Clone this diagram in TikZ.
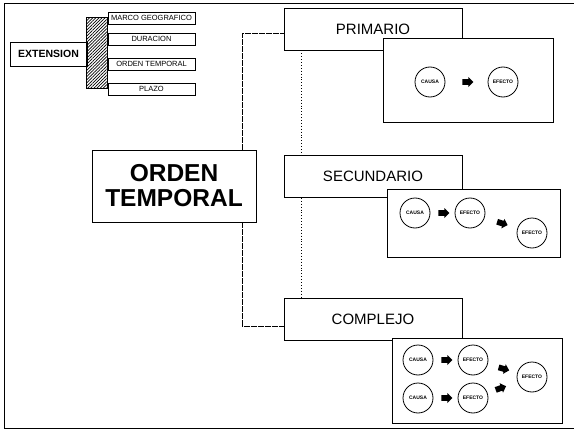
\documentclass[tikz,border=0pt]{standalone}
\usepackage{fontspec}
\setmainfont{Liberation Sans}
\usetikzlibrary{calc,patterns.meta,shapes.arrows}

\begin{document}
\begin{tikzpicture}[x=1pt,y=-1pt,
  titlebox/.style={draw,line width=0.8pt,fill=white,minimum width=178pt,minimum height=42pt,inner sep=0pt,font=\fontsize{15}{17}\selectfont},
  itembox/.style={draw,line width=0.7pt,fill=white,minimum width=87pt,minimum height=12pt,inner sep=0pt,font=\fontsize{7.5}{8}\selectfont},
  panel/.style={draw,line width=1pt,fill=white,inner sep=0pt},
  evt/.style={circle,draw,line width=0.8pt,minimum size=30pt,inner sep=0pt,font=\bfseries\fontsize{5}{6}\selectfont},
  blk/.style={single arrow,fill=black,minimum height=11pt,minimum width=10pt,single arrow head extend=2pt,inner sep=2.6pt},
  link/.style={line width=0.8pt,dash pattern=on 6pt off 1pt},
  guide/.style={line width=0.9pt,dotted}]
\useasboundingbox (0,0) rectangle (574,431);
% outer frame, open on the right
\draw[line width=1.8pt] (574,3.5) -- (4.5,3.5) -- (4.5,428.5) -- (574,428.5);
% extension block: label, hatched strip, four items
\node[draw,line width=0.8pt,minimum width=77pt,minimum height=24pt,inner sep=0pt,font=\bfseries\fontsize{10.5}{12}\selectfont] (ext) at (48.5,54) {EXTENSION};
\node[draw,line width=0.8pt,pattern={Lines[angle=45,distance=2.2pt,line width=0.7pt]},minimum width=21pt,minimum height=71pt,inner sep=0pt] (strip) at (96.5,52.5) {};
\node[itembox] (marco) at (151.5,18) {MARCO GEOGRAFICO};
\node[itembox] (dur) at (151.5,39) {DURACION};
\node[itembox] (ordt) at (151.5,64) {ORDEN TEMPORAL};
\node[itembox] (plazo) at (151.5,89) {PLAZO};
% main concept
\node[draw,line width=0.8pt,minimum width=164pt,minimum height=72pt,inner sep=0pt,align=center,font=\bfseries\fontsize{24.5}{25}\selectfont] (orden) at (174,186) {ORDEN\\TEMPORAL};
% primario
\node[titlebox] (prim) at (373,29) {PRIMARIO};
\node[panel,minimum width=170pt,minimum height=84pt] (pprim) at (468,80) {};
\node[evt] (pc) at (430,82) {CAUSA};
\node[evt] (pe) at (503,82) {EFECTO};
\path (pc) -- node[blk,sloped] {} (pe);
% secundario
\node[titlebox] (sec) at (373,176.5) {SECUNDARIO};
\node[panel,minimum width=173pt,minimum height=68pt] (psec) at (473.5,223) {};
\node[evt] (sc) at (415,213) {CAUSA};
\node[evt] (se) at (470,213) {EFECTO};
\node[evt] (sf) at (532,233) {EFECTO};
\path (sc) -- node[blk,sloped] {} (se);
\path (se) -- node[blk,sloped] {} (sf);
% complejo
\node[titlebox] (comp) at (373,319.5) {COMPLEJO};
\node[panel,minimum width=170pt,minimum height=85pt] (pcomp) at (477,380.5) {};
\node[evt] (ct) at (418,360) {CAUSA};
\node[evt] (et) at (473,360) {EFECTO};
\node[evt] (cb) at (418,398) {CAUSA};
\node[evt] (eb) at (473,398) {EFECTO};
\node[evt] (ef) at (532,377) {EFECTO};
\path (ct) -- node[blk,sloped] {} (et);
\path (cb) -- node[blk,sloped] {} (eb);
\path (et) -- node[blk,sloped] {} (ef);
\path (eb) -- node[blk,sloped,pos=0.4] {} (ef);
% links from the main concept
\draw[link] ([xshift=-14pt]orden.north east) |- ([yshift=-4pt]prim.west);
\draw[link] ([xshift=-14pt]orden.south east) |- ([yshift=-6.5pt]comp.west);
\draw[guide] ([xshift=18pt]prim.south west) -- ([xshift=18pt]sec.north west);
\draw[guide] ([xshift=18pt]sec.south west) -- ([xshift=18pt]comp.north west);
\end{tikzpicture}
\end{document}
